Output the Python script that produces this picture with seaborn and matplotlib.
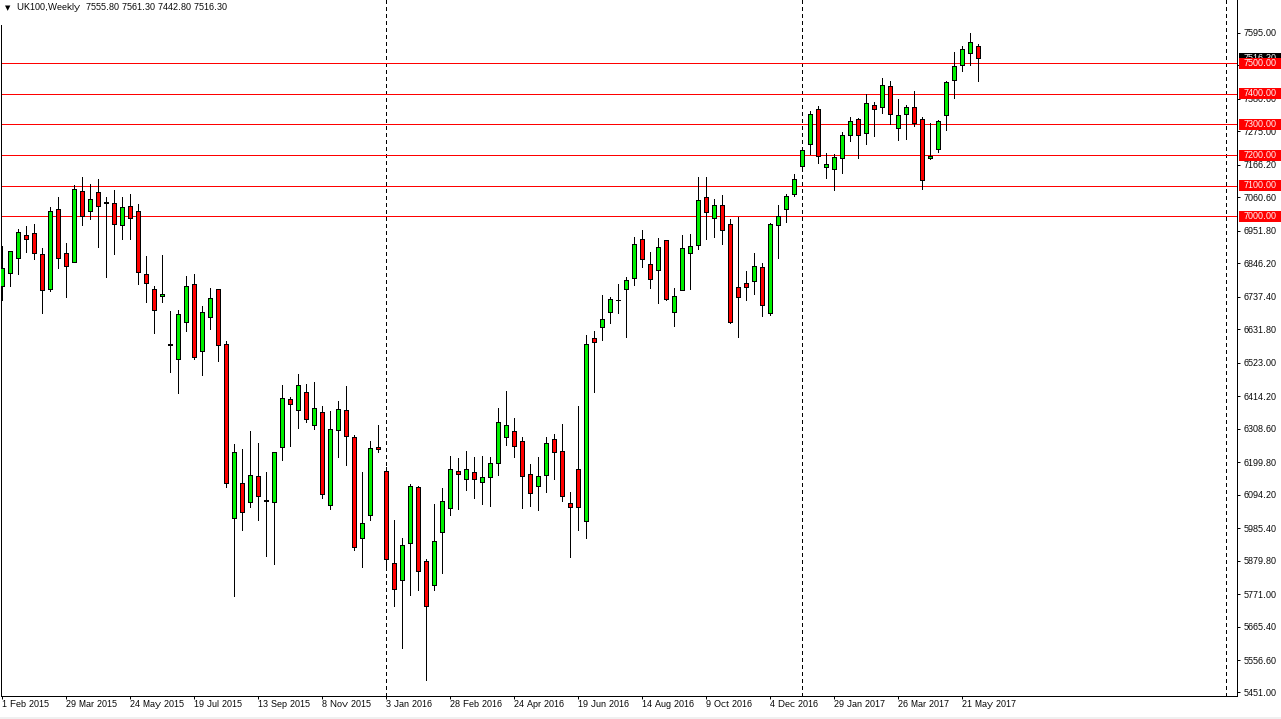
import matplotlib
matplotlib.use('Agg')
import matplotlib.pyplot as plt
from matplotlib.patches import Rectangle
from matplotlib.transforms import blended_transform_factory
import numpy as np
import pandas as pd
import seaborn as sns

# weekly UK100 candles
opens = [6773, 6814, 6863, 6938, 6944, 6876, 6761, 7025, 6879, 6850,
         7082, 7016, 7078, 7045, 7042, 6970, 7033, 7016, 6810, 6761,
         6739, 6581, 6533, 6653, 6778, 6559, 6670, 6761, 6582, 6013,
         6127, 6065, 6150, 6072, 6065, 6245, 6402, 6366, 6425, 6317,
         6359, 6055, 6300, 6366, 6278, 5948, 6023, 6245, 6167, 5866,
         5810, 5931, 6114, 5872, 5794, 5967, 6046, 6167, 6140, 6163,
         6133, 6147, 6193, 6278, 6297, 6265, 6157, 6118, 6154, 6271,
         6232, 6062, 6173, 6003, 6601, 6637, 6686, 6727, 6761, 6797,
         6925, 6843, 6823, 6921, 6686, 6758, 6879, 6905, 7062, 6993,
         7036, 6974, 6768, 6781, 6787, 6833, 6683, 6970, 7023, 7072,
         7163, 7235, 7350, 7162, 7153, 7189, 7265, 7317, 7271, 7363,
         7356, 7425, 7288, 7333, 7356, 7317, 7189, 7219, 7330, 7444,
         7493, 7533, 7555.8]
closes = [6830, 6885, 6948, 6927, 6879, 6758, 7016, 6863, 6839, 7088,
          7000, 7055, 7033, 7044, 6974, 7029, 6993, 6817, 6781, 6693,
          6745, 6580, 6680, 6771, 6539, 6686, 6732, 6578, 6127, 6229,
          6033, 6153, 6085, 6071, 6229, 6405, 6386, 6448, 6336, 6372,
          6091, 6304, 6369, 6281, 5918, 5997, 6242, 6238, 5879, 5781,
          5925, 6118, 5840, 5725, 5938, 6069, 6173, 6157, 6173, 6140,
          6147, 6193, 6327, 6317, 6250, 6150, 6095, 6150, 6258, 6229,
          6085, 6049, 6049, 6582, 6590, 6663, 6729, 6726, 6791, 6908,
          6859, 6794, 6899, 6729, 6738, 6895, 6902, 7052, 7013, 7036,
          6954, 6653, 6735, 6768, 6836, 6709, 6974, 7000, 7065, 7121,
          7216, 7333, 7196, 7170, 7193, 7265, 7310, 7265, 7369, 7350,
          7428, 7333, 7330, 7356, 7304, 7118, 7197, 7310, 7438, 7490,
          7546, 7568, 7516.3]
highs = [6903, 6888, 6957, 6968, 6974, 6895, 7029, 7062, 6912, 7102,
         7127, 7104, 7121, 7062, 7086, 7062, 7073, 7039, 6869, 6771,
         6874, 6691, 6694, 6804, 6810, 6707, 6766, 6761, 6592, 6255,
         6240, 6298, 6259, 6163, 6229, 6449, 6408, 6485, 6452, 6458,
         6380, 6364, 6396, 6445, 6285, 6164, 6265, 6318, 6181, 6006,
         5949, 6125, 6119, 5880, 6060, 6112, 6217, 6210, 6233, 6213,
         6217, 6213, 6374, 6429, 6341, 6279, 6191, 6213, 6279, 6289,
         6321, 6099, 6380, 6612, 6625, 6742, 6735, 6778, 6800, 6931,
         6954, 6882, 6928, 6921, 6766, 6939, 6942, 7128, 7128, 7056,
         7070, 6990, 6999, 6820, 6879, 6846, 6977, 7036, 7072, 7137,
         7222, 7343, 7360, 7206, 7202, 7274, 7323, 7320, 7400, 7372,
         7451, 7441, 7383, 7364, 7410, 7323, 7305, 7314, 7441, 7536,
         7555, 7598, 7561.3]
lows = [6726, 6773, 6812, 6884, 6859, 6685, 6757, 6832, 6737, 6850,
        6972, 6991, 6901, 6803, 6878, 6926, 6926, 6780, 6721, 6620,
        6721, 6492, 6424, 6626, 6535, 6482, 6630, 6528, 6116, 5760,
        5975, 6051, 6008, 5891, 5865, 6204, 6249, 6308, 6328, 6305,
        6080, 6043, 6213, 6187, 5909, 5854, 6008, 6230, 5855, 5726,
        5589, 5762, 5779, 5485, 5779, 5834, 6024, 6043, 6106, 6079,
        6060, 6053, 6155, 6253, 6213, 6047, 6053, 6040, 6099, 6142,
        6070, 5887, 5975, 5949, 6426, 6596, 6651, 6684, 6606, 6775,
        6834, 6766, 6717, 6727, 6641, 6758, 6762, 6893, 6926, 6932,
        6909, 6652, 6606, 6726, 6746, 6674, 6677, 6864, 6981, 7067,
        7153, 7204, 7174, 7125, 7086, 7142, 7246, 7191, 7236, 7262,
        7338, 7301, 7249, 7253, 7295, 7089, 7187, 7210, 7282, 7387,
        7475, 7494, 7442.8]

levels = [7500, 7400, 7300, 7200, 7100, 7000]
separators = [48, 100, 153]
price_ticks = [7595.00, 7489.40, 7380.60, 7275.00, 7166.20, 7060.60, 6951.80,
               6846.20, 6737.40, 6631.80, 6523.00, 6414.20, 6308.60, 6199.80,
               6094.20, 5985.40, 5879.80, 5771.00, 5665.40, 5556.60, 5451.00]
date_labels = ['1 Feb 2015', '29 Mar 2015', '24 May 2015', '19 Jul 2015',
               '13 Sep 2015', '8 Nov 2015', '3 Jan 2016', '28 Feb 2016',
               '24 Apr 2016', '19 Jun 2016', '14 Aug 2016', '9 Oct 2016',
               '4 Dec 2016', '29 Jan 2017', '26 Mar 2017', '21 May 2017']
date_weeks = list(range(0, 128, 8))
header = 'UK100,Weekly  7555.80 7561.30 7442.80 7516.30'
last_price = 7516.30

sns.set_style('white')
plt.rcParams['font.family'] = ['Liberation Sans', 'DejaVu Sans']
plt.rcParams['text.hinting'] = 'native'
plt.rcParams['text.hinting_factor'] = 1

W, H = 1281, 719
px = 0.72  # one pixel in points at dpi 100
font = 6.7

df = pd.DataFrame({'week': np.arange(len(opens)), 'open': opens, 'close': closes,
                   'high': highs, 'low': lows})
df['bottom'] = df[['open', 'close']].min(axis=1)
df['height'] = (df['open'] - df['close']).abs()
up = df[df['close'] >= df['open']]
down = df[df['close'] < df['open']]

wicks = df.melt(id_vars='week', value_vars=['high', 'low'], value_name='price')

fig = plt.figure(figsize=(W / 100, H / 100), dpi=100, facecolor='white')
ax = fig.add_axes([1 / W, 1 - 696 / H, 1236 / W, 696 / H])

# period separators and price levels sit behind the candles
for s in separators:
    ax.axvline(s, color='black', lw=px, ls=(0, (3, 3)), zorder=1, antialiased=False)
for lv in levels:
    ax.axhline(lv, color='#ff0000', lw=px, zorder=1.5, antialiased=False)

sns.lineplot(data=wicks, x='week', y='price', units='week', estimator=None,
             color='black', lw=px, ax=ax, zorder=3, antialiased=False)
for part, col in [(up, '#00f000'), (down, '#ff0000')]:
    sns.barplot(data=part, x='week', y='height', bottom=part['bottom'].values,
                native_scale=True, color=col, saturation=1, width=0.5, errorbar=None,
                edgecolor='black', linewidth=px, ax=ax, zorder=4, antialiased=False)

ax.set_xlim(-0.125, 154.375)
ax.set_ylim(5432.4, 7706.5)
ax.set_xlabel('')
ax.set_ylabel('')
ax.set_yticks([])
ax.set_xticks(date_weeks, date_labels, ha='left')
ax.tick_params(axis='x', length=2.5, width=px, color='black', labelsize=font,
               labelcolor='black', pad=0.5, bottom=True)

# the scale runs a little tighter than the level lines, so it gets its own axis
scale = ax.twinx()
scale.set_ylim(5439.6, 7702.2)
scale.set_yticks(price_ticks, [f'{t:.2f}' for t in price_ticks])
scale.tick_params(axis='y', length=2.5, width=px, color='black', labelsize=font,
                  labelcolor='black', pad=2, right=True)
for a in [ax, scale]:
    for side in ['left', 'right', 'bottom']:
        a.spines[side].set_visible(True)
        a.spines[side].set_color('black')
        a.spines[side].set_linewidth(px)
    a.spines['top'].set_visible(False)
# header row hides the top of the left edge
ax.spines['left'].set_bounds(5432.4, 7625)
scale.spines['left'].set_visible(False)

# price tags on the scale
tag_trans = blended_transform_factory(ax.transAxes, ax.transData)
for value, bg, z in [(last_price, 'black', 8)] + [(lv, '#ff0000', 9) for lv in levels]:
    scale.add_patch(Rectangle((1.0016, value - 18), 0.034, 36, transform=tag_trans,
                              facecolor=bg, edgecolor='none', clip_on=False, zorder=z))
    scale.text(1.0049, value, f'{value:.2f}', transform=tag_trans, color='white',
               fontsize=font, va='center', clip_on=False, zorder=z + 0.5)

fig.text(5 / W, 1 - 7.5 / H, '\u25bc', fontsize=5, family='DejaVu Sans', va='center', color='black')
fig.text(17 / W, 1 - 7.5 / H, header, fontsize=font, va='center', color='black')
fig.add_artist(Rectangle((0, 0), 1, 2 / H, transform=fig.transFigure,
                         facecolor='#f0f0f0', edgecolor='none'))

fig.savefig('out.png', dpi=100)
